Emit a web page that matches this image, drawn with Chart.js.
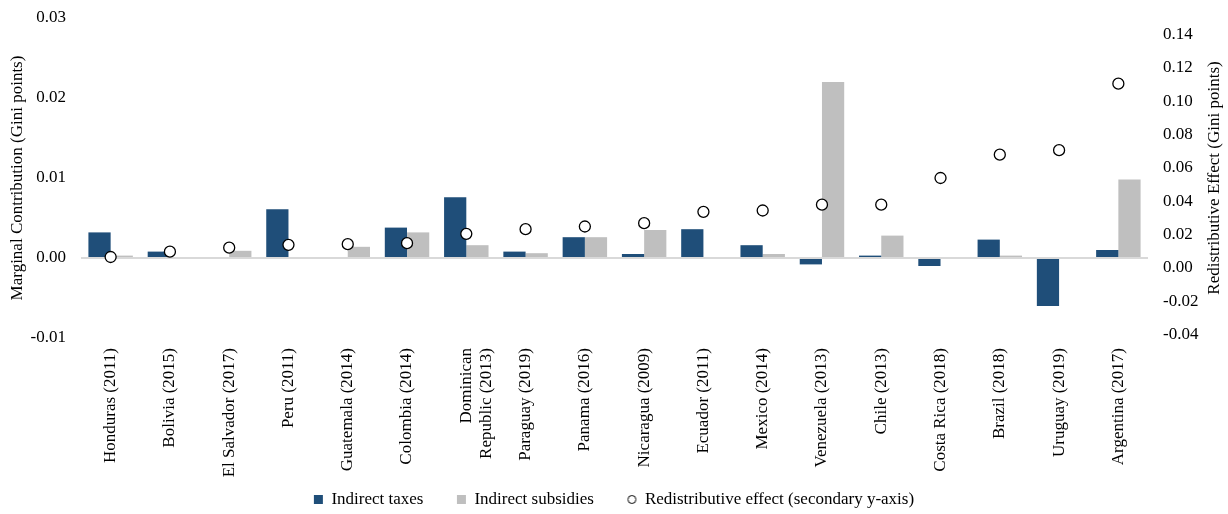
<!DOCTYPE html>
<html>
<head>
<meta charset="utf-8">
<script src="https://cdn.jsdelivr.net/npm/chart.js@4"></script>
<style>
  html, body { margin: 0; padding: 0; background: #fff; }
  #wrap { width: 1228px; height: 514px; }
</style>
</head>
<body>
<div id="wrap"><canvas id="chart"></canvas></div>
<script>
// categories (x axis)
const countries = [
    'Honduras (2011)', 'Bolivia (2015)', 'El Salvador (2017)', 'Peru (2011)',
    'Guatemala (2014)', 'Colombia (2014)', ['Dominican', 'Republic (2013)'],
    'Paraguay (2019)', 'Panama (2016)', 'Nicaragua (2009)', 'Ecuador (2011)',
    'Mexico (2014)', 'Venezuela (2013)', 'Chile (2013)', 'Costa Rica (2018)',
    'Brazil (2018)', 'Uruguay (2019)', 'Argentina (2017)'
];

// marginal contribution, left axis
const indirectTaxes = [
    0.0032, 0.0008, 0, 0.0061, 0, 0.0038, 0.0076, 0.0008, 0.0026,
    0.0005, 0.0036, 0.0016, -0.0008, 0.0003, -0.001, 0.0023, -0.006, 0.001
];
const indirectSubsidies = [
    0.0003, 0, 0.0009, 0, 0.0014, 0.0032, 0.0016, 0.0006, 0.0026,
    0.0035, 0, 0.0005, 0.022, 0.0028, 0, 0.0003, 0, 0.0098
];

// redistributive effect, right axis
const redistributiveEffect = [
    0.0066, 0.0098, 0.0122, 0.0139, 0.0143, 0.0149, 0.0205, 0.0233, 0.0249,
    0.0269, 0.0337, 0.0345, 0.038, 0.038, 0.054, 0.068, 0.0707, 0.1106
];

const leftTicks = [-0.01, 0, 0.01, 0.02, 0.03];
const rightTicks = [-0.04, -0.02, 0, 0.02, 0.04, 0.06, 0.08, 0.10, 0.12, 0.14];

const serif = "'Liberation Serif', 'Times New Roman', serif";
const tickFont = { family: serif, size: 17 };
const rightTitle = 'Redistributive Effect (Gini points)';

// small hollow circle for the legend entry
const legendCircle = document.createElement('canvas');
legendCircle.width = 11;
legendCircle.height = 11;
(() => {
    const c = legendCircle.getContext('2d');
    c.beginPath();
    c.arc(5.5, 5.5, 4, 0, Math.PI * 2);
    c.fillStyle = '#fff';
    c.fill();
    c.lineWidth = 1;
    c.strokeStyle = '#000';
    c.stroke();
})();

// right axis title reads bottom-to-top like the left one
const rightTitlePlugin = {
    id: 'rightTitle',
    afterDraw: (chart) => {
        const { ctx, chartArea } = chart;
        ctx.save();
        ctx.translate(chart.width - 13, (chartArea.top + chartArea.bottom) / 2);
        ctx.rotate(-Math.PI / 2);
        ctx.font = "17px " + serif;
        ctx.fillStyle = '#000';
        ctx.textAlign = 'center';
        ctx.textBaseline = 'middle';
        ctx.fillText(rightTitle, 0, 0);
        ctx.restore();
    }
};

const keepTop = (scale) => {
    scale.paddingTop = 18;
    scale.paddingBottom = 0;
};

new Chart(document.getElementById('chart'), {
    type: 'bar',
    data: {
        labels: countries,
        datasets: [
            {
                label: 'Indirect taxes',
                data: indirectTaxes,
                backgroundColor: '#1f4e79',
                yAxisID: 'y',
                order: 1
            },
            {
                label: 'Indirect subsidies',
                data: indirectSubsidies,
                backgroundColor: '#bfbfbf',
                yAxisID: 'y',
                order: 1
            },
            {
                type: 'line',
                label: 'Redistributive effect (secondary y-axis)',
                data: redistributiveEffect,
                yAxisID: 'y1',
                showLine: false,
                pointStyle: 'circle',
                pointRadius: 5.5,
                pointHoverRadius: 5.5,
                pointBackgroundColor: '#ffffff',
                pointBorderColor: '#000000',
                pointBorderWidth: 1.3,
                backgroundColor: '#ffffff',
                borderColor: '#000000',
                borderWidth: 1,
                order: 0
            }
        ]
    },
    plugins: [rightTitlePlugin],
    options: {
        responsive: true,
        maintainAspectRatio: false,
        animation: false,
        layout: { padding: { top: 0, left: 0, right: 0, bottom: -4 } },
        datasets: {
            bar: {
                categoryPercentage: 0.75,
                barPercentage: 1.0
            }
        },
        plugins: {
            legend: {
                position: 'bottom',
                labels: {
                    font: tickFont,
                    color: '#000',
                    usePointStyle: true,
                    boxWidth: 9,
                    boxHeight: 9,
                    padding: 8,
                    sort: (a, b) => a.datasetIndex - b.datasetIndex,
                    generateLabels: (chart) => {
                        const items = Chart.defaults.plugins.legend.labels.generateLabels(chart);
                        // trailing spaces widen the gaps between entries
                        const gaps = ['\u00a0'.repeat(6), '\u00a0'.repeat(6), ''];
                        items.forEach(item => {
                            item.text = item.text + gaps[item.datasetIndex];
                            if (item.datasetIndex < 2) {
                                item.pointStyle = 'rect';
                                item.lineWidth = 0;
                            } else {
                                item.pointStyle = legendCircle;
                                item.lineWidth = 0;
                            }
                        });
                        return items;
                    }
                }
            },
            tooltip: { enabled: false }
        },
        scales: {
            x: {
                grid: { display: false, drawTicks: false },
                border: { display: false },
                ticks: {
                    font: tickFont,
                    color: '#000',
                    autoSkip: false,
                    minRotation: 90,
                    maxRotation: 90,
                    padding: 10
                },
                afterFit: (scale) => {
                    scale.height = 145;
                    scale.paddingLeft = 0;
                    scale.paddingRight = 0;
                }
            },
            y: {
                position: 'left',
                min: -0.01,
                max: 0.03,
                afterBuildTicks: (scale) => {
                    scale.ticks = leftTicks.map(v => ({ value: v }));
                },
                grid: {
                    drawTicks: false,
                    lineWidth: 2,
                    color: (ctx) => (ctx.tick && Math.abs(ctx.tick.value) < 1e-9) ? '#d9d9d9' : 'rgba(0,0,0,0)'
                },
                border: { display: false },
                ticks: {
                    font: tickFont,
                    color: '#000',
                    padding: 15,
                    callback: (v) => Number(v).toFixed(2)
                },
                title: {
                    display: true,
                    text: 'Marginal Contribution (Gini points)',
                    font: tickFont,
                    color: '#000',
                    padding: { top: 7, bottom: 0 }
                },
                afterFit: (scale) => {
                    scale.width = 81;
                    keepTop(scale);
                }
            },
            y1: {
                position: 'right',
                min: -0.042,
                max: 0.150,
                afterBuildTicks: (scale) => {
                    scale.ticks = rightTicks.map(v => ({ value: v }));
                },
                grid: { display: false, drawTicks: false },
                border: { display: false },
                ticks: {
                    font: tickFont,
                    color: '#000',
                    padding: 15,
                    callback: (v) => Number(v).toFixed(2)
                },
                afterFit: (scale) => {
                    scale.width = 80;
                    keepTop(scale);
                }
            }
        }
    }
});
</script>
</body>
</html>
